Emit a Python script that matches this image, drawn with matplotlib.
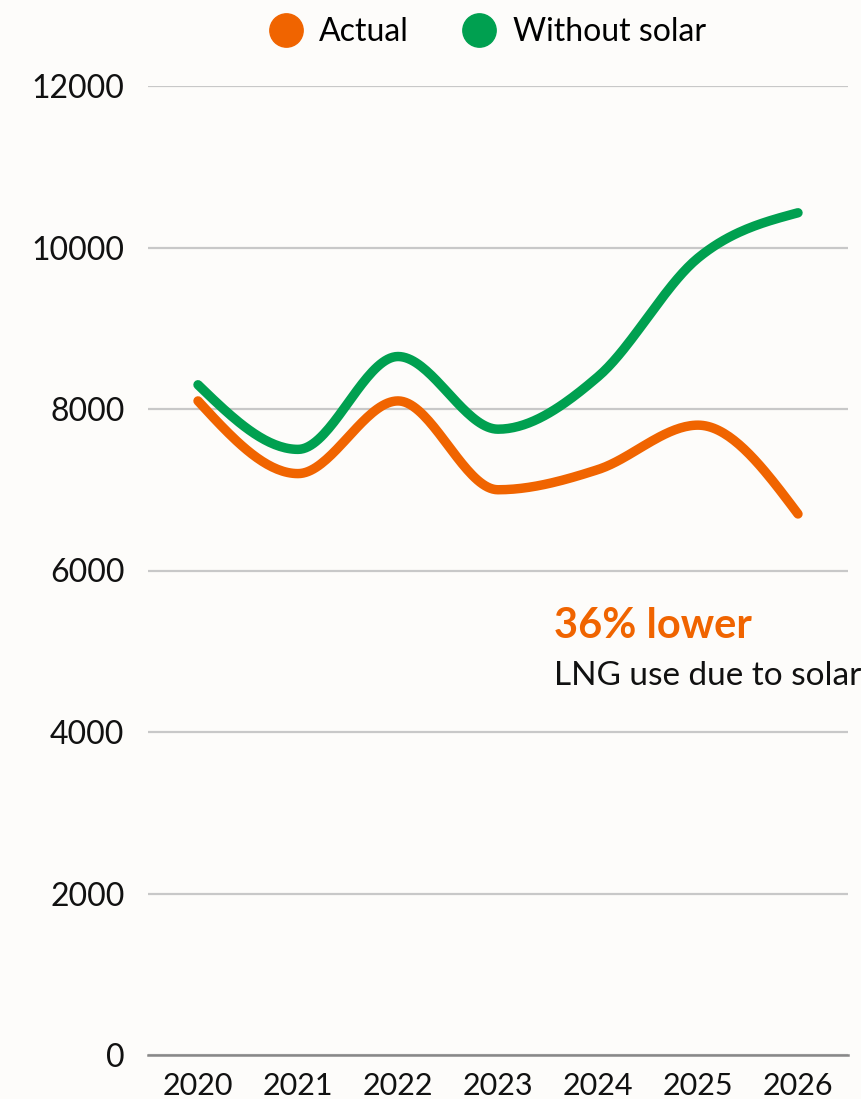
import numpy as np
import matplotlib.pyplot as plt
from matplotlib.lines import Line2D

# LNG use per year, actual vs. a scenario without solar
years = ['2020', '2021', '2022', '2023', '2024', '2025', '2026']
actual = [8100, 7200, 8100, 7000, 7250, 7800, 6700]
without_solar = [8300, 7500, 8650, 7750, 8400, 9870, 10430]

COLORS = {
    'actual': '#f06400',
    'without': '#00a050',
    'bg': '#fdfcfa',
    'grid': '#c8c8c8',
    'axis': '#888888',
    'text': '#111111',
}

plt.rcParams.update({
    'font.family': ['Lato', 'DejaVu Sans'],
    'font.size': 22,
})


def monotone_curve(x, y, steps=40):
    """Monotone cubic (d3 curveMonotoneX style) through the given points."""
    x = np.asarray(x, float)
    y = np.asarray(y, float)
    n = len(x)
    h = np.diff(x)
    s = np.diff(y) / h
    t = np.zeros(n)
    for i in range(1, n - 1):
        p = (s[i - 1] * h[i] + s[i] * h[i - 1]) / (h[i - 1] + h[i])
        t[i] = (np.sign(s[i - 1]) + np.sign(s[i])) * min(abs(s[i - 1]), abs(s[i]), 0.5 * abs(p))
    t[0] = (3 * s[0] - t[1]) / 2
    t[-1] = (3 * s[-1] - t[-2]) / 2
    xs, ys = [], []
    for i in range(n - 1):
        dx = h[i] / 3
        p0 = (x[i], y[i])
        p1 = (x[i] + dx, y[i] + dx * t[i])
        p2 = (x[i + 1] - dx, y[i + 1] - dx * t[i + 1])
        p3 = (x[i + 1], y[i + 1])
        u = np.linspace(0, 1, steps)
        b = [(1 - u) ** 3, 3 * (1 - u) ** 2 * u, 3 * (1 - u) * u ** 2, u ** 3]
        xs.append(sum(bk * pk[0] for bk, pk in zip(b, (p0, p1, p2, p3))))
        ys.append(sum(bk * pk[1] for bk, pk in zip(b, (p0, p1, p2, p3))))
    return np.concatenate(xs), np.concatenate(ys)


fig = plt.figure(figsize=(8.61, 10.99), dpi=100)
fig.patch.set_facecolor(COLORS['bg'])
ax = fig.add_axes([148 / 861, 1 - 1055 / 1099, 700 / 861, 969 / 1099])
ax.set_facecolor(COLORS['bg'])

pos = np.arange(len(years))
for series, key in ((actual, 'actual'), (without_solar, 'without')):
    cx, cy = monotone_curve(pos, series)
    ax.plot(cx, cy, color=COLORS[key], lw=6.8, solid_capstyle='round', zorder=3)

ax.set_xlim(-0.5, len(years) - 0.5)
ax.set_ylim(0, 12000)
ax.set_yticks(np.arange(0, 12001, 2000))
ax.set_xticks(pos)
ax.set_xticklabels(years)
ax.tick_params(axis='both', length=0, colors=COLORS['text'])
ax.tick_params(axis='y', pad=17, labelsize=23)
ax.tick_params(axis='x', pad=12, labelsize=22)

ax.grid(axis='y', color=COLORS['grid'], lw=1.6)
ax.set_axisbelow(True)
for side in ('top', 'right', 'left'):
    ax.spines[side].set_visible(False)
ax.spines['bottom'].set_color(COLORS['axis'])
ax.spines['bottom'].set_linewidth(1.8)
ax.spines['bottom'].set_zorder(4)

# legend with round markers along the top
handles = [
    Line2D([], [], marker='o', ls='none', markersize=24, color=COLORS['actual'], label='Actual'),
    Line2D([], [], marker='o', ls='none', markersize=24, color=COLORS['without'], label='Without solar'),
]
fig.legend(handles=handles, loc='center', bbox_to_anchor=(0.563, 1 - 32 / 1099), ncol=2,
           frameon=False, fontsize=23, handletextpad=0.35, columnspacing=1.5,
           handlelength=1.4)

# callout
fig.text(554 / 861, 1 - 638 / 1099, '36% lower', color=COLORS['actual'],
         fontsize=30, fontweight='bold', ha='left', va='baseline')
fig.text(554 / 861, 1 - 685 / 1099, 'LNG use due to solar', color=COLORS['text'],
         fontsize=24, ha='left', va='baseline')

fig.savefig('out.png', dpi=100, facecolor=COLORS['bg'])
